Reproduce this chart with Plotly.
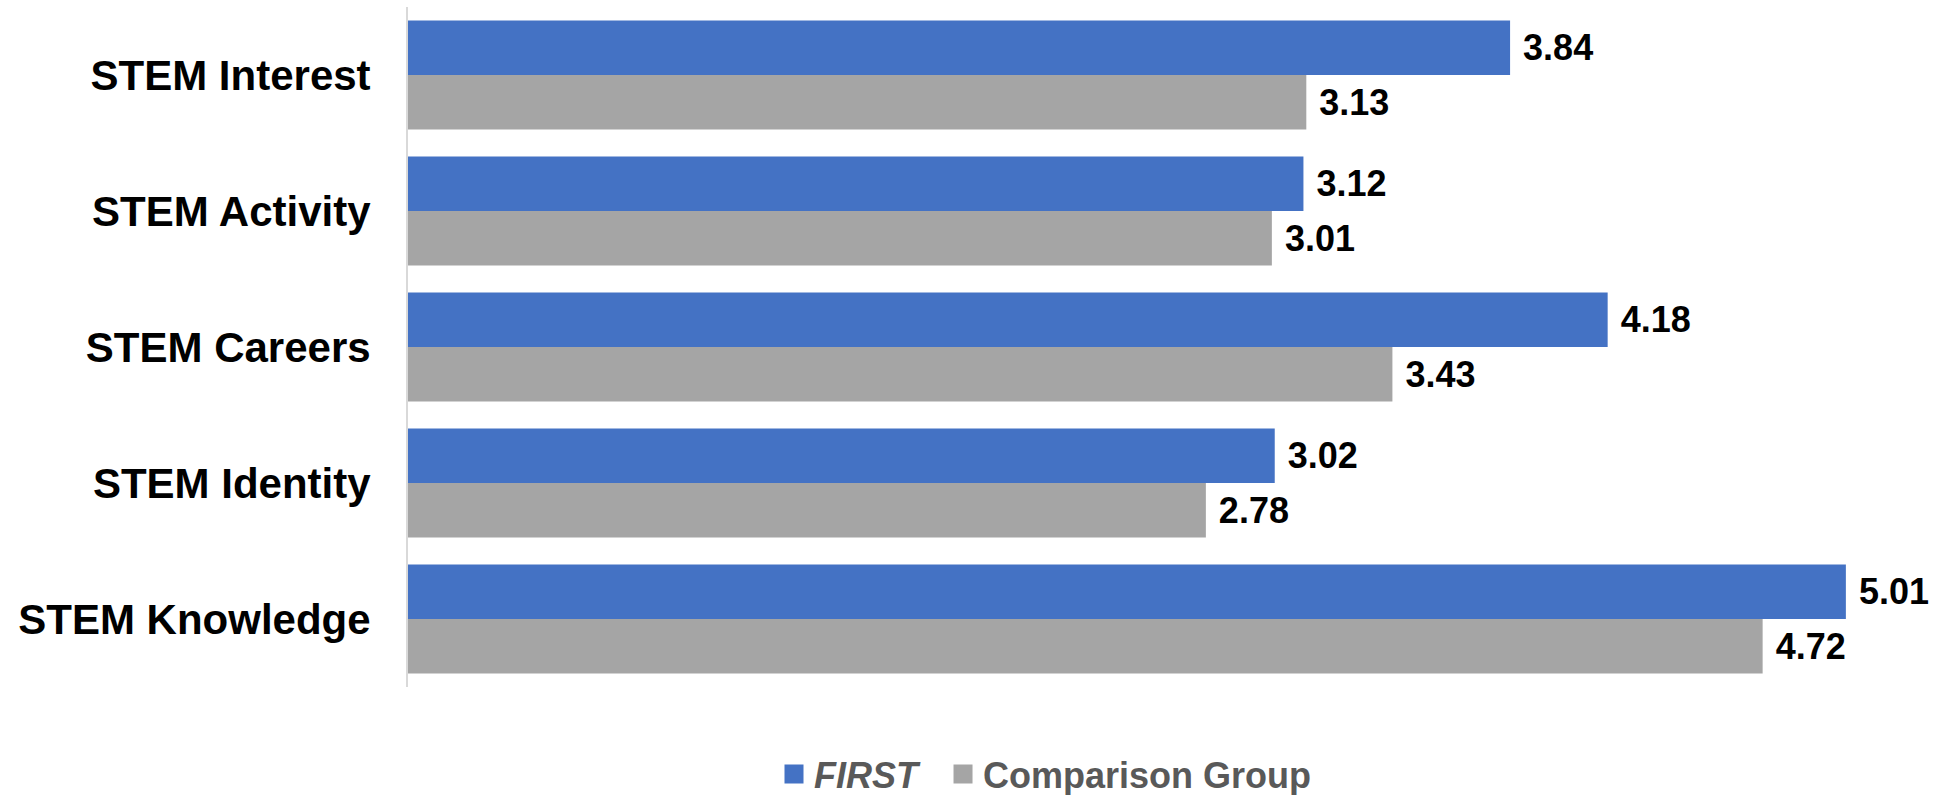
import plotly.graph_objects as go

categories = ["STEM Interest", "STEM Activity", "STEM Careers", "STEM Identity", "STEM Knowledge"]
first_values = [3.84, 3.12, 4.18, 3.02, 5.01]
comparison_values = [3.13, 3.01, 3.43, 2.78, 4.72]
series_names = ["<i>FIRST</i>\u00a0\u00a0", "Comparison Group"]

BLUE = "#4472C4"
GRAY = "#A5A5A5"
FONT = "Arial, 'Liberation Sans', sans-serif"

W, H = 1936, 795
ML, MR, MT, MB = 408, 10, 7, 108
plot_w = W - ML - MR
plot_h = H - MT - MB
px_per_unit = 287
xmax = plot_w / px_per_unit
legend_center_y = 774

fig = go.Figure()
for vals, color, name in [(first_values, BLUE, series_names[0]), (comparison_values, GRAY, series_names[1])]:
    fig.add_trace(go.Bar(
        y=categories, x=vals, orientation="h",
        marker=dict(color=color, line=dict(width=0)),
        texttemplate="\u00a0%{x:.2f}", textposition="outside",
        textfont=dict(family=FONT, size=36, color="black", weight="bold"),
        constraintext="none", cliponaxis=False,
        showlegend=False, name=name, hoverinfo="skip",
    ))
    # legend entry with a larger square swatch
    fig.add_trace(go.Scatter(
        x=[None], y=[None], mode="markers", name=name,
        marker=dict(symbol="square", size=16, color=color, line=dict(color=color, width=3)),
        showlegend=True, hoverinfo="skip",
    ))

fig.update_layout(
    width=W, height=H,
    margin=dict(l=ML, r=MR, t=MT, b=MB, autoexpand=False),
    paper_bgcolor="white", plot_bgcolor="white",
    barmode="group", bargap=0.2, bargroupgap=0,
    showlegend=True,
    legend=dict(
        orientation="h", x=(774 - ML) / plot_w, xanchor="left",
        y=-(legend_center_y - (MT + plot_h)) / plot_h, yanchor="middle",
        font=dict(family=FONT, size=36, color="#595959", weight="bold"),
        itemclick=False, itemdoubleclick=False,
    ),
    xaxis=dict(range=[0, xmax], showgrid=False, zeroline=False, showticklabels=False,
               showline=False, ticks=""),
    yaxis=dict(autorange="reversed", showgrid=False, zeroline=False,
               showline=True, linecolor="#D9D9D9", linewidth=2,
               ticks="", ticklabelstandoff=27,
               tickfont=dict(family=FONT, size=42, color="black", weight="bold")),
)

fig.write_html("out.html")
